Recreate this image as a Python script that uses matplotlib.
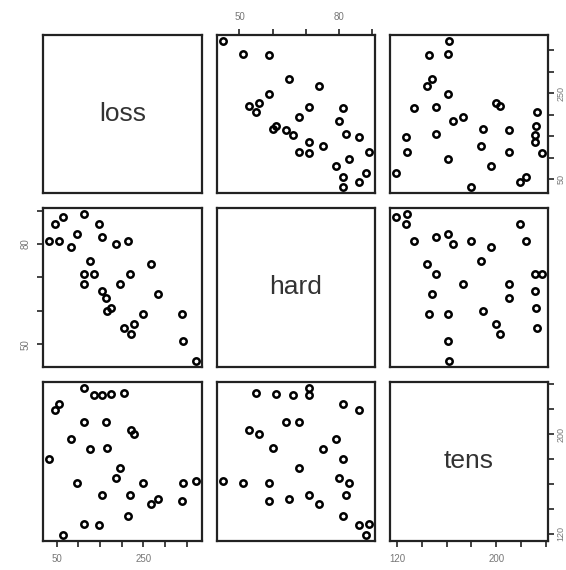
import numpy as np
import matplotlib
matplotlib.use("Agg")
import matplotlib.pyplot as plt

plt.rcParams['font.family'] = ['Liberation Sans', 'DejaVu Sans']

# MASS::Rubber data
loss = [372, 206, 175, 154, 136, 112, 55, 45, 221, 166, 164, 113, 82, 32, 228,
        196, 128, 97, 64, 249, 219, 186, 155, 114, 341, 340, 283, 267, 215, 148]
hard = [45, 55, 61, 66, 71, 71, 81, 86, 53, 60, 64, 68, 79, 81, 56,
        68, 75, 83, 88, 59, 71, 80, 82, 89, 51, 59, 65, 74, 81, 86]
tens = [162, 233, 232, 231, 231, 237, 224, 219, 203, 189, 210, 210, 196, 180, 200,
        173, 188, 161, 119, 161, 151, 165, 151, 128, 161, 146, 148, 144, 134, 127]

names = ["loss", "hard", "tens"]
data = {"loss": loss, "hard": hard, "tens": tens}
ticks = {"loss": [50, 100, 150, 200, 250, 300, 350],
         "hard": [50, 60, 70, 80, 90],
         "tens": [120, 140, 160, 180, 200, 220, 240]}
shown = {"loss": ["50", "250"], "hard": ["50", "80"], "tens": ["120", "200"]}

W, H = 566, 570
fig = plt.figure(figsize=(W / 100, H / 100), dpi=100)

colx = [(43, 202), (217, 375), (390, 548)]
rowy = [(35, 193), (208, 367), (382, 541)]


def lims(v):
    v = np.asarray(v, float)
    r = v.max() - v.min()
    return v.min() - 0.04 * r, v.max() + 0.04 * r


def labs(name):
    return [str(t) if str(t) in shown[name] else "" for t in ticks[name]]


tick_color = "#777777"
for i, rn in enumerate(names):
    for j, cn in enumerate(names):
        x0, x1 = colx[j]
        y0, y1 = rowy[i]
        ax = fig.add_axes([x0 / W, 1 - y1 / H, (x1 - x0) / W, (y1 - y0) / H])
        for s in ax.spines.values():
            s.set_linewidth(1.6)
            s.set_color("#222222")
        ax.set_xlim(*lims(data[cn]))
        ax.set_ylim(*lims(data[rn]))
        ax.tick_params(which="both", direction="out", length=4, width=1.2,
                       color="#222222", labelsize=7, labelcolor=tick_color, pad=5)
        ax.set_xticks([])
        ax.set_yticks([])
        if i == j:
            ax.text(0.5, 0.5, rn, transform=ax.transAxes, ha="center", va="center",
                    fontsize=19, color="#333333")
        else:
            ax.plot(data[cn], data[rn], linestyle="none", marker="o", ms=4.6,
                    mfc="none", mec="black", mew=1.8)
        # axes ticks
        if i == 0 and j == 1:
            ax.xaxis.tick_top()
            ax.set_xticks(ticks[cn])
            ax.set_xticklabels(labs(cn))
        if i == 2 and j in (0, 2):
            ax.set_xticks(ticks[cn])
            ax.set_xticklabels(labs(cn))
        if j == 0 and i == 1:
            ax.set_yticks(ticks[rn])
            ax.set_yticklabels(labs(rn), rotation=90, va="center")
        if j == 2 and i in (0, 2):
            ax.yaxis.tick_right()
            ax.tick_params(axis="y", pad=2, labelsize=6.5)
            ax.set_yticks(ticks[rn])
            ax.set_yticklabels(labs(rn), rotation=90, va="center")
        ax.set_xlim(*lims(data[cn]))
        ax.set_ylim(*lims(data[rn]))

fig.savefig("out.png", dpi=100)
